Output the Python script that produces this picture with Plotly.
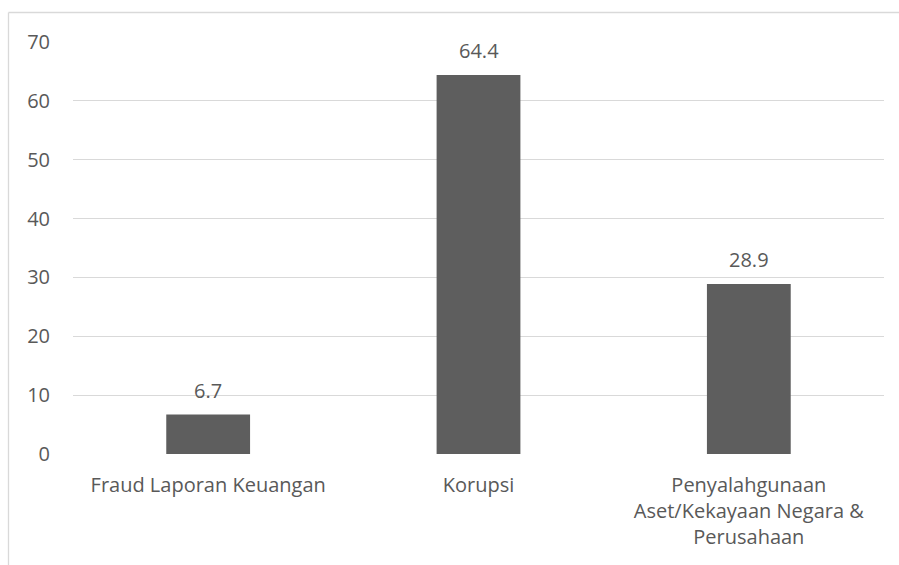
import plotly.graph_objects as go

categories = ["Fraud Laporan Keuangan", "Korupsi",
              "Penyalahgunaan<br>Aset/Kekayaan Negara &<br>Perusahaan"]
values = [6.7, 64.4, 28.9]
y_ticks = [0, 10, 20, 30, 40, 50, 60, 70]

TXT = "#595959"
GRID = "#D9D9D9"
FONT = "Open Sans, Noto Sans, sans-serif"
FS = 20

fig = go.Figure(go.Bar(
    x=categories, y=values,
    marker=dict(color="#5E5E5E", line=dict(width=0)),
    width=0.31,
    hoverinfo="skip",
))

for c, v in zip(categories, values):
    fig.add_annotation(x=c, y=v, text=f"{v:.1f}", showarrow=False,
                       yanchor="bottom", yshift=9,
                       font=dict(family=FONT, size=FS, color=TXT))

W, H = 899, 565
L, R, T, B = 73, 15, 42, 111
pw, ph = W - L - R, H - T - B

fig.update_layout(
    width=W, height=H,
    margin=dict(l=L, r=R, t=T, b=B),
    paper_bgcolor="white", plot_bgcolor="white",
    showlegend=False,
    font=dict(family=FONT, size=FS, color=TXT),
    xaxis=dict(showgrid=False, showline=False, zeroline=False,
               tickfont=dict(family=FONT, size=FS, color=TXT),
               ticks="", ticklabelstandoff=17),
    yaxis=dict(range=[0, 70], tickvals=y_ticks, showgrid=True,
               gridcolor=GRID, gridwidth=1.3, zeroline=False, showline=False,
               tickfont=dict(family=FONT, size=FS, color=TXT),
               ticks="", ticklabelstandoff=22),
    shapes=[
        dict(type="line", xref="paper", yref="paper",
             x0=(8.5 - L) / pw, x1=(W + 5 - L) / pw,
             y0=(H - B - 12.5) / ph, y1=(H - B - 12.5) / ph,
             line=dict(color=GRID, width=1.3)),
        dict(type="line", xref="paper", yref="paper",
             x0=(8.5 - L) / pw, x1=(8.5 - L) / pw,
             y0=(H - B - 12.5) / ph, y1=(H - B - H - 5) / ph,
             line=dict(color=GRID, width=1.3)),
    ],
)

fig.write_html("out.html", config={"displayModeBar": False},
               post_script="document.body.style.margin='0';")
